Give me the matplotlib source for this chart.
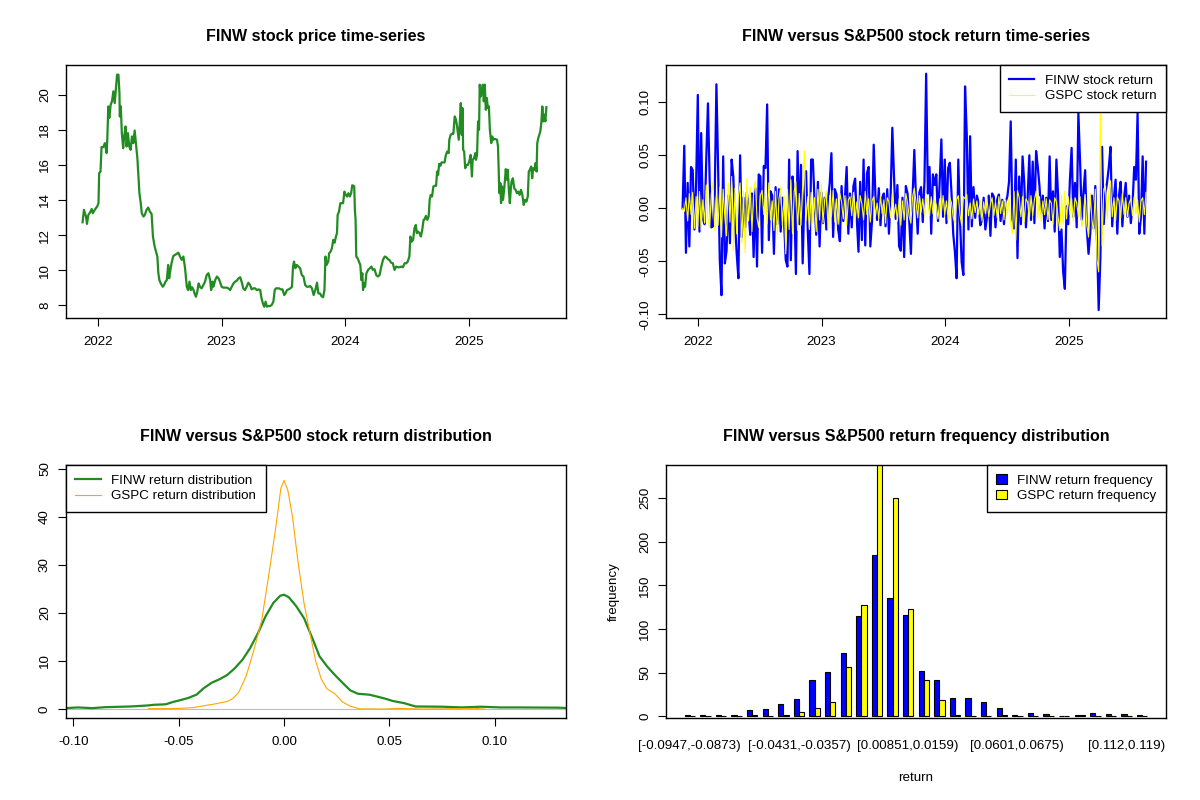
#!/usr/bin/env python3
"""
FINW vs S&P500 overview: price, daily returns, return density and binned frequency.
Layout and styling follow the look of an R base-graphics 2x2 panel.
"""

import numpy as np
import pandas as pd
import matplotlib
matplotlib.use("Agg")
import matplotlib.pyplot as plt
from matplotlib.lines import Line2D
from matplotlib.patches import Patch

plt.rcParams['font.family'] = ['Liberation Sans', 'DejaVu Sans']

LISTING = "2021-11-16"

# FINW closing price, sampled: days since listing -> price
price_days = [
    0, 4, 10, 13, 17, 22, 27, 30, 37, 43, 47, 49, 53, 56, 61, 66, 71, 73, 76, 79,
    83, 87, 91, 95, 99, 102, 106, 109, 110, 113, 116, 120, 123, 127, 130, 134, 138, 142, 146, 150,
    154, 158, 162, 165, 168, 172, 175, 180, 184, 189, 194, 199, 204, 208, 213, 217, 221, 224, 227, 232,
    237, 241, 245, 249, 253, 256, 258, 263, 268, 273, 278, 283, 288, 293, 298, 303, 308, 312, 316, 320,
    324, 328, 331, 335, 339, 343, 347, 352, 357, 362, 367, 372, 377, 380, 384, 387, 392, 397, 402, 406,
    411, 416, 421, 426, 431, 436, 441, 446, 451, 456, 461, 466, 471, 475, 480, 485, 490, 495, 500, 505,
    510, 515, 520, 525, 529, 533, 537, 541, 545, 549, 554, 559, 564, 568, 572, 576, 581, 586, 591, 596,
    600, 604, 609, 614, 619, 622, 625, 629, 633, 638, 643, 648, 653, 658, 663, 668, 673, 678, 683, 688,
    693, 697, 702, 706, 711, 715, 718, 721, 726, 729, 733, 737, 741, 745, 749, 752, 754, 758, 762, 766,
    770, 774, 778, 782, 786, 790, 794, 797, 801, 803, 805, 807, 809, 813, 817, 821, 824, 827, 829, 832,
    835, 839, 844, 849, 854, 858, 863, 868, 873, 878, 883, 888, 893, 898, 903, 907, 912, 917, 922, 927,
    932, 937, 942, 947, 952, 957, 961, 966, 969, 973, 977, 981, 985, 988, 992, 996, 1000, 1004, 1008, 1011,
    1015, 1019, 1023, 1026, 1029, 1033, 1037, 1041, 1045, 1048, 1051, 1054, 1058, 1061, 1066, 1070, 1074, 1078, 1082, 1084,
    1088, 1092, 1096, 1100, 1104, 1107, 1110, 1112, 1115, 1118, 1121, 1123, 1125, 1128, 1131, 1135, 1139, 1143, 1147, 1151,
    1153, 1157, 1161, 1163, 1166, 1169, 1172, 1174, 1177, 1180, 1183, 1186, 1189, 1192, 1195, 1198, 1201, 1204, 1208, 1211,
    1214, 1217, 1221, 1225, 1228, 1230, 1232, 1235, 1237, 1240, 1243, 1247, 1251, 1254, 1257, 1260, 1263, 1266, 1268, 1272,
    1276, 1280, 1284, 1288, 1292, 1296, 1300, 1304, 1308, 1312, 1316, 1319, 1322, 1326, 1329, 1332, 1336, 1339, 1342, 1344,
    1347, 1350, 1353, 1356, 1359, 1362, 1365, 1368, 1371,
]
finw_price = [
    12.73, 13.44, 13.06, 12.64, 13.15, 13.29, 13.49, 13.25, 13.47, 13.63, 13.82, 15.53, 15.62, 17.01, 17.01, 17.24, 16.67, 17.43, 19.33, 18.67,
    19.43, 19.62, 20.19, 19.52, 20.47, 21.14, 21.14, 20.09, 18.76, 19.33, 17.81, 16.95, 17.62, 18.19, 17.05, 17.81, 17.05, 16.86, 17.62, 17.24,
    17.96, 17.14, 16.38, 15.34, 14.39, 13.82, 13.25, 13.06, 13.15, 13.44, 13.57, 13.34, 13.21, 11.92, 11.35, 11.06, 10.78, 9.83, 9.44, 9.22,
    9.06, 9.16, 9.35, 9.44, 10.30, 9.54, 9.83, 10.40, 10.81, 10.87, 10.93, 11.00, 10.78, 10.59, 10.78, 10.11, 9.06, 8.87, 9.35, 8.87,
    9.03, 8.87, 8.68, 8.49, 8.78, 9.25, 9.06, 8.97, 9.16, 9.35, 9.73, 9.83, 9.44, 8.87, 9.35, 9.06, 9.44, 9.64, 9.54, 9.35,
    9.06, 9.01, 9.01, 9.01, 8.97, 8.87, 9.06, 9.25, 9.35, 9.41, 9.54, 9.60, 9.29, 8.97, 8.87, 9.06, 9.29, 9.16, 8.91, 8.97,
    8.97, 8.87, 8.91, 8.87, 8.40, 8.11, 7.92, 8.21, 7.92, 7.96, 7.96, 8.02, 8.21, 8.87, 8.97, 8.97, 8.97, 8.91, 8.91, 8.59,
    8.68, 8.87, 8.91, 8.97, 9.06, 10.21, 10.49, 10.11, 10.30, 10.21, 10.11, 9.73, 9.64, 9.16, 9.06, 9.06, 9.10, 8.97, 8.59, 8.87,
    9.29, 8.68, 8.68, 8.53, 8.46, 8.87, 10.78, 10.30, 10.49, 10.97, 11.06, 11.25, 11.73, 11.57, 11.92, 12.11, 13.15, 13.34, 13.82, 13.82,
    13.82, 14.48, 14.29, 14.20, 14.39, 14.20, 14.39, 14.84, 14.81, 14.77, 13.44, 12.87, 10.78, 10.68, 10.49, 10.30, 9.44, 9.83, 8.87, 9.25,
    9.06, 9.83, 10.02, 10.11, 10.21, 10.02, 10.06, 9.73, 9.64, 9.73, 10.21, 10.59, 10.78, 10.74, 10.62, 10.59, 10.43, 10.40, 10.02, 10.21,
    10.17, 10.17, 10.21, 10.17, 10.40, 10.40, 10.49, 10.78, 11.92, 11.63, 11.73, 12.39, 12.58, 12.11, 12.20, 12.11, 11.92, 12.30, 12.87, 12.90,
    13.10, 12.87, 13.06, 14.01, 14.29, 14.20, 14.77, 14.81, 14.81, 15.62, 15.43, 16.06, 15.95, 16.14, 16.14, 16.14, 16.57, 16.76, 16.67, 17.43,
    17.71, 17.77, 17.77, 18.76, 18.57, 18.19, 17.71, 17.43, 18.38, 19.52, 17.71, 19.24, 16.86, 16.76, 15.81, 16.00, 16.00, 16.19, 16.57, 15.34,
    16.29, 16.38, 16.67, 16.29, 16.57, 18.48, 18.00, 20.57, 19.90, 20.09, 20.57, 19.62, 20.57, 19.14, 19.81, 19.24, 19.33, 18.00, 17.24, 17.62,
    17.43, 17.47, 17.47, 17.43, 17.05, 15.72, 14.39, 14.96, 13.82, 14.77, 14.01, 14.77, 15.76, 15.15, 15.72, 14.58, 13.82, 14.67, 15.05, 15.24,
    14.67, 14.58, 14.39, 14.48, 14.29, 14.58, 14.29, 13.72, 14.01, 13.91, 14.20, 15.62, 15.72, 15.91, 15.24, 15.81, 15.72, 16.10, 15.62, 17.24,
    17.52, 17.71, 17.90, 18.38, 19.33, 18.48, 18.86, 18.48, 19.29,
]

# Daily returns read every fifth calendar day from the listing date
finw_ret = [
    0.000, 0.059, -0.042, 0.024, -0.036, 0.039, 0.036, -0.020, 0.022, 0.107,
    -0.022, 0.071, -0.010, -0.015, 0.046, 0.099, 0.027, -0.018, -0.017, 0.012,
    0.117, 0.039, -0.049, -0.082, 0.049, -0.052, -0.040, 0.012, -0.033, 0.046,
    0.030, -0.014, -0.043, -0.066, 0.050, -0.027, 0.010, -0.018, 0.015, -0.002,
    -0.025, 0.014, -0.046, 0.019, -0.055, 0.032, 0.030, -0.042, 0.040, 0.038,
    0.098, -0.030, 0.016, 0.012, -0.043, 0.020, -0.015, 0.018, -0.022, 0.010,
    -0.012, -0.049, -0.055, 0.046, -0.049, 0.030, 0.010, -0.062, 0.054, -0.015,
    0.041, -0.052, 0.012, 0.035, -0.020, -0.062, 0.046, 0.046, 0.008, -0.025,
    0.025, -0.036, 0.015, -0.014, 0.010, -0.020, 0.008, 0.024, 0.052, -0.027,
    0.018, 0.013, -0.020, -0.031, 0.021, -0.012, 0.010, 0.039, -0.024, 0.014,
    -0.018, 0.021, 0.028, -0.010, -0.041, 0.025, -0.030, 0.046, -0.035, 0.033,
    0.039, -0.036, -0.012, 0.060, 0.012, -0.011, 0.019, -0.016, 0.010, 0.014,
    -0.017, 0.018, -0.024, 0.012, 0.076, 0.030, -0.010, 0.022, -0.036, -0.040,
    0.010, -0.046, 0.021, 0.014, -0.012, -0.043, 0.012, 0.055, 0.008, -0.024,
    0.015, 0.020, -0.013, 0.025, 0.127, 0.014, 0.039, -0.024, 0.032, 0.022,
    0.032, -0.012, 0.025, 0.065, -0.008, 0.046, -0.014, 0.038, 0.043, 0.014,
    -0.024, -0.041, -0.066, 0.046, -0.011, -0.051, -0.063, 0.115, 0.070, -0.020,
    0.068, -0.017, 0.020, -0.009, 0.012, 0.005, -0.016, -0.011, 0.010, -0.020,
    -0.008, 0.012, -0.026, 0.014, 0.011, -0.018, 0.008, 0.013, -0.012, 0.008,
    -0.015, 0.006, 0.011, 0.025, 0.082, -0.010, -0.019, 0.046, -0.047, 0.030,
    -0.015, 0.049, 0.024, -0.018, 0.010, 0.050, -0.011, 0.044, -0.014, 0.054,
    0.039, 0.021, -0.005, 0.012, -0.019, 0.010, -0.012, 0.049, -0.011, 0.016,
    -0.022, 0.046, 0.012, -0.046, -0.020, -0.060, -0.076, 0.002, -0.015, 0.027,
    0.057, -0.008, 0.024, -0.018, 0.090, 0.044, -0.011, 0.015, 0.036, -0.020,
    -0.043, -0.024, 0.012, -0.019, 0.021, -0.030, -0.096, -0.047, 0.058, -0.015,
    0.014, 0.025, 0.039, 0.058, -0.017, 0.010, 0.027, -0.024, 0.012, 0.025,
    -0.017, 0.010, 0.024, -0.008, 0.012, -0.014, 0.002, 0.039, 0.027, 0.090,
    -0.024, -0.008, 0.049, -0.024, 0.044,
]
gspc_ret = [
    0.000, -0.003, 0.010, -0.012, 0.014, -0.006, 0.015, -0.019, 0.011, -0.017,
    0.016, -0.020, 0.008, -0.014, 0.022, -0.010, -0.018, 0.014, 0.025, -0.021,
    0.012, -0.016, 0.020, -0.027, 0.018, -0.009, -0.026, 0.024, -0.013, 0.030,
    -0.040, 0.019, -0.024, 0.011, 0.024, -0.033, 0.016, -0.042, 0.028, -0.012,
    0.020, -0.022, 0.015, 0.026, -0.009, -0.018, 0.012, 0.017, -0.006, 0.013,
    -0.015, 0.024, -0.011, 0.007, -0.021, 0.016, -0.025, 0.009, 0.020, -0.016,
    0.012, -0.043, 0.018, -0.020, 0.027, -0.024, 0.016, 0.025, -0.021, 0.014,
    -0.016, 0.021, 0.054, -0.012, 0.011, -0.020, 0.015, -0.014, 0.010, -0.022,
    0.018, -0.011, 0.023, -0.014, 0.008, 0.016, -0.019, 0.012, -0.008, 0.017,
    -0.013, 0.009, -0.015, 0.014, 0.006, -0.010, 0.012, -0.016, 0.008, 0.011,
    -0.007, 0.015, -0.012, 0.006, -0.009, 0.012, 0.004, -0.011, 0.016, -0.006,
    0.009, -0.013, 0.007, 0.011, -0.008, 0.005, -0.010, 0.012, -0.005, 0.008,
    -0.014, 0.010, 0.006, -0.009, 0.013, -0.006, 0.004, -0.012, 0.009, -0.016,
    0.007, -0.011, 0.014, 0.005, -0.008, -0.014, 0.011, 0.019, 0.006, -0.009,
    0.012, -0.004, 0.009, -0.006, 0.010, 0.004, -0.007, 0.011, -0.005, 0.008,
    0.003, -0.010, 0.009, -0.004, 0.012, -0.006, 0.007, -0.011, 0.010, 0.005,
    -0.009, -0.014, 0.008, 0.012, -0.006, -0.016, 0.011, 0.009, 0.013, -0.007,
    0.005, -0.010, 0.009, -0.004, 0.007, -0.006, 0.008, -0.012, 0.006, -0.005,
    0.009, -0.008, 0.004, 0.010, -0.007, 0.006, -0.009, 0.011, -0.005, 0.007,
    -0.011, 0.008, -0.006, 0.010, -0.014, -0.024, 0.016, -0.030, 0.017, 0.010,
    -0.008, 0.011, -0.013, 0.009, 0.006, -0.010, 0.012, -0.007, 0.008, 0.016,
    -0.009, 0.011, -0.012, 0.007, -0.006, 0.009, -0.011, 0.008, 0.005, -0.015,
    0.010, 0.006, -0.008, -0.021, 0.012, -0.015, 0.016, -0.010, 0.011, -0.006,
    0.009, -0.012, 0.010, 0.005, -0.008, 0.011, -0.018, -0.009, 0.013, -0.016,
    -0.027, 0.014, -0.011, -0.022, 0.018, -0.048, -0.060, 0.095, -0.035, 0.018,
    0.021, -0.010, 0.015, 0.026, -0.008, 0.010, -0.012, 0.011, 0.007, -0.009,
    0.014, -0.006, 0.010, -0.008, 0.005, 0.009, -0.007, 0.011, -0.005, 0.008,
    -0.013, 0.007, 0.010, -0.006, 0.015,
]

# Kernel density curves
finw_dens_x = [-0.1035, -0.098, -0.091, -0.085, -0.0726, -0.065, -0.0617, -0.0562, -0.0526, -0.0489,
               -0.0453, -0.0416, -0.038, -0.0343, -0.0307, -0.027, -0.0234, -0.0197, -0.0161, -0.0124,
               -0.0088, -0.0051, -0.0018, 0.0, 0.0022, 0.0058, 0.0095, 0.0131, 0.0168, 0.0204,
               0.0241, 0.0277, 0.0314, 0.035, 0.0405, 0.0442, 0.0478, 0.0515, 0.0569, 0.0624,
               0.0752, 0.0843, 0.0934, 0.1026, 0.1117, 0.130, 0.1354]
finw_dens_y = [0.2, 0.35, 0.2, 0.4, 0.55, 0.75, 0.9, 1.0, 1.5, 1.9,
               2.35, 3.0, 4.4, 5.5, 6.2, 7.1, 8.5, 10.3, 12.7, 15.8,
               19.3, 22.1, 23.6, 23.8, 23.3, 21.4, 18.9, 15.1, 11.0, 8.9,
               7.1, 5.5, 3.9, 3.2, 3.0, 2.6, 2.2, 1.7, 1.25, 0.55,
               0.5, 0.35, 0.5, 0.35, 0.35, 0.3, 0.2]
gspc_dens_x = [-0.0644, -0.0526, -0.0434, -0.038, -0.0325, -0.027, -0.0243, -0.0215, -0.0179, -0.0142,
               -0.0106, -0.0069, -0.0042, -0.0015, 0.0, 0.0018, 0.004, 0.0068, 0.0095, 0.0122,
               0.015, 0.0177, 0.0204, 0.0241, 0.0277, 0.0314, 0.036, 0.0478, 0.0533, 0.066,
               0.0907, 0.0953]
gspc_dens_y = [0.1, 0.1, 0.3, 0.7, 1.1, 1.6, 2.2, 3.5, 7.0, 12.5,
               18.5, 29.0, 37.0, 46.0, 47.6, 45.5, 40.0, 30.0, 22.0, 16.0,
               10.0, 6.2, 4.2, 3.2, 1.5, 0.6, 0.05, 0.02, 0.15, 0.02,
               0.15, 0.0]

# Return frequency in 30 equal-width bins
finw_freq = [1, 1, 2, 1, 7, 8, 14, 20, 42, 51, 72, 115, 185, 135, 116,
             52, 41, 21, 21, 16, 9, 1, 4, 3, 0, 1, 4, 3, 3, 1]
gspc_freq = [0, 0, 0, 0, 1, 0, 2, 5, 10, 16, 56, 127, 296, 250, 123,
             41, 19, 2, 0, 0, 1, 0, 0, 0, 0, 1, 0, 0, 0, 0]
shown_bins = [0, 7, 14, 21, 28]
shown_bin_labels = ["[-0.0947,-0.0873)", "[-0.0431,-0.0357)", "[0.00851,0.0159)",
                    "[0.0601,0.0675)", "[0.112,0.119)"]

year_ticks = ["2022", "2023", "2024", "2025"]

FOREST = "#228B22"
FS = 9.6
TITLE_FS = 11.5


def r_style(ax, xpad=7.0, ypad=5.0):
    """Mimic R base graphics axes: full box, outward ticks, rotated y labels."""
    for s in ax.spines.values():
        s.set_linewidth(1.0)
        s.set_color('black')
    ax.tick_params(axis='both', direction='out', length=5.8, width=0.8,
                   labelsize=FS, colors='black')
    ax.tick_params(axis='x', pad=xpad)
    ax.tick_params(axis='y', pad=ypad)
    for lab in ax.get_yticklabels():
        lab.set_rotation(90)
        lab.set_va('center')


def r_legend(ax, handles, labels, loc, handlelength=1.9):
    leg = ax.legend(handles, labels, loc=loc, fontsize=FS, frameon=True,
                    fancybox=False, framealpha=1, edgecolor='black',
                    borderaxespad=0, borderpad=0.7, labelspacing=0.25,
                    handlelength=handlelength, handletextpad=0.8)
    leg.get_frame().set_linewidth(1.0)
    return leg


fig = plt.figure(figsize=(12, 8), dpi=100)
W, H = 500 / 1200, 253 / 800
ax1 = fig.add_axes([66 / 1200, 1 - 318 / 800, W, H])
ax2 = fig.add_axes([666 / 1200, 1 - 318 / 800, W, H])
ax3 = fig.add_axes([66 / 1200, 1 - 718 / 800, W, H])
ax4 = fig.add_axes([666 / 1200, 1 - 718 / 800, W, H])

start = pd.Timestamp(LISTING)
price_dates = start + pd.to_timedelta(price_days, unit="D")
return_dates = pd.date_range(start, periods=len(finw_ret), freq="5D")
year_pos = [pd.Timestamp(y + "-01-01") for y in year_ticks]
date_lim = (pd.Timestamp("2021-09-28"), pd.Timestamp("2025-10-15"))

# Panel 1: price
ax1.plot(price_dates, finw_price, color=FOREST, lw=1.6)
ax1.set_xlim(date_lim)
ax1.set_ylim(7.28, 21.69)
ax1.set_xticks(year_pos)
ax1.set_xticklabels(year_ticks)
ax1.set_yticks([8, 10, 12, 14, 16, 18, 20])
ax1.set_title("FINW stock price time-series", fontsize=TITLE_FS,
              fontweight='bold', pad=17)
r_style(ax1)

# Panel 2: returns
ax2.plot(return_dates, finw_ret, color='blue', lw=1.6)
ax2.plot(return_dates, gspc_ret, color='yellow', lw=0.8)
ax2.set_xlim(date_lim)
ax2.set_ylim(-0.1035, 0.1352)
ax2.set_xticks(year_pos)
ax2.set_xticklabels(year_ticks)
ax2.set_yticks([-0.10, -0.05, 0.0, 0.05, 0.10])
ax2.set_yticklabels(["-0.10", "-0.05", "0.00", "0.05", "0.10"])
ax2.set_title("FINW versus S&P500 stock return time-series", fontsize=TITLE_FS,
              fontweight='bold', pad=17)
r_style(ax2)
r_legend(ax2, [Line2D([], [], color='blue', lw=1.6),
               Line2D([], [], color='yellow', lw=0.8)],
         ["FINW stock return", "GSPC stock return"], 'upper right')

# Panel 3: density
ax3.axhline(0, color='#BEBEBE', lw=0.8, zorder=1)
ax3.plot(finw_dens_x, finw_dens_y, color=FOREST, lw=1.6, zorder=2)
ax3.plot(gspc_dens_x, gspc_dens_y, color='orange', lw=0.8, zorder=3)
ax3.set_xlim(-0.1035, 0.1338)
ax3.set_ylim(-1.85, 50.8)
ax3.set_xticks([-0.10, -0.05, 0.0, 0.05, 0.10])
ax3.set_xticklabels(["-0.10", "-0.05", "0.00", "0.05", "0.10"])
ax3.set_yticks([0, 10, 20, 30, 40, 50])
ax3.set_title("FINW versus S&P500 stock return distribution", fontsize=TITLE_FS,
              fontweight='bold', pad=17)
r_style(ax3)
r_legend(ax3, [Line2D([], [], color=FOREST, lw=1.6),
               Line2D([], [], color='orange', lw=0.8)],
         ["FINW return distribution", "GSPC return distribution"], 'upper left')

# Panel 4: side-by-side frequency bars
groups = np.arange(len(finw_freq))
ax4.bar(3 * groups + 1, finw_freq, width=1, align='edge', color='blue',
        edgecolor='black', lw=0.8)
ax4.bar(3 * groups + 2, gspc_freq, width=1, align='edge', color='yellow',
        edgecolor='black', lw=0.8)
ax4.set_xlim(-2.56, 93.56)
ax4.set_ylim(-2, 288)
ax4.set_xticks([3 * g + 2 for g in shown_bins])
ax4.set_xticklabels(shown_bin_labels)
ax4.set_yticks([0, 50, 100, 150, 200, 250])
ax4.set_xlabel("return", fontsize=FS, labelpad=14)
ax4.set_ylabel("frequency", fontsize=FS, labelpad=14)
ax4.set_title("FINW versus S&P500 return frequency distribution", fontsize=TITLE_FS,
              fontweight='bold', pad=17)
r_style(ax4)
ax4.tick_params(axis='x', length=0, pad=16)
r_legend(ax4, [Patch(facecolor='blue', edgecolor='black', lw=0.8),
               Patch(facecolor='yellow', edgecolor='black', lw=0.8)],
         ["FINW return frequency", "GSPC return frequency"], 'upper right',
         handlelength=0.8)

fig.savefig("out.png", dpi=100)
plt.close(fig)
